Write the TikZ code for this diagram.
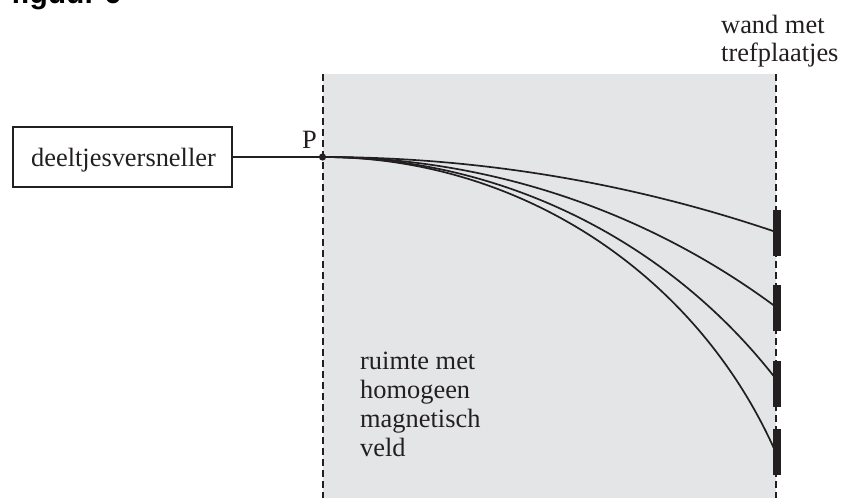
\documentclass[tikz,border=0pt]{standalone}
\usepackage{fontspec}
\setmainfont{Liberation Serif}
\newfontfamily\headfont{Liberation Sans}
\definecolor{ink}{HTML}{231F20}
\definecolor{field}{HTML}{E4E5E7}
\tikzset{
  x=1pt,y=-1pt,
  label text/.style={inner sep=0pt,anchor=base west,text=ink,font=\fontsize{26.4}{30}\selectfont,align=left},
  wall/.style={draw=ink,line width=2pt,dash pattern=on 6.5pt off 4.5pt},
  path line/.style={draw=ink,line width=1.7pt},
  plate/.style={fill=ink,draw=none},
}
\begin{document}
\begin{tikzpicture}
\useasboundingbox (0,0) rectangle (841,498);
\fill[field] (323,74) rectangle (776,498);
\draw[wall] (322.5,74) -- (322.5,498);
\draw[wall] (776,74) -- (776,498);
\foreach \y in {210,285,361,429}{
  \fill[plate] (773,\y) rectangle (781,\y+46);
}
\node[draw=ink,line width=1.7pt,minimum width=219pt,minimum height=60pt,inner sep=0pt] (box) at (122.5,157) {};
\node[label text,anchor=base] at (123.5,166) {deeltjesversneller};
\coordinate (P) at (322.5,157);
\draw[path line] (box.east) -- (P);
\fill[ink] (P) circle (3.6pt);
\node[label text] at (302,148) {P};
\coordinate (e1) at (776,232);
\coordinate (e2) at (776,307);
\coordinate (e3) at (776,379);
\coordinate (e4) at (776,453);
\draw[path line] (P) .. controls (476.8,157) and (629.9,182.3) .. (e1);
\draw[path line] (P) .. controls (485.8,157) and (644.9,209.6) .. (e2);
\draw[path line] (P) .. controls (499.8,157) and (667.2,239) .. (e3);
\draw[path line] (P) .. controls (519,157) and (696.9,273.1) .. (e4);
\node[label text] at (721,33) {wand met};
\node[label text] at (721,61) {trefplaatjes};
\node[label text] at (360,369) {ruimte met};
\node[label text] at (360,398) {homogeen};
\node[label text] at (360,427.5) {magnetisch};
\node[label text] at (360,456.5) {veld};
\node[inner sep=0pt,anchor=base west,font=\headfont\bfseries\fontsize{30}{33}\selectfont,text=black] at (11,3) {figuur 6};
\end{tikzpicture}
\end{document}
